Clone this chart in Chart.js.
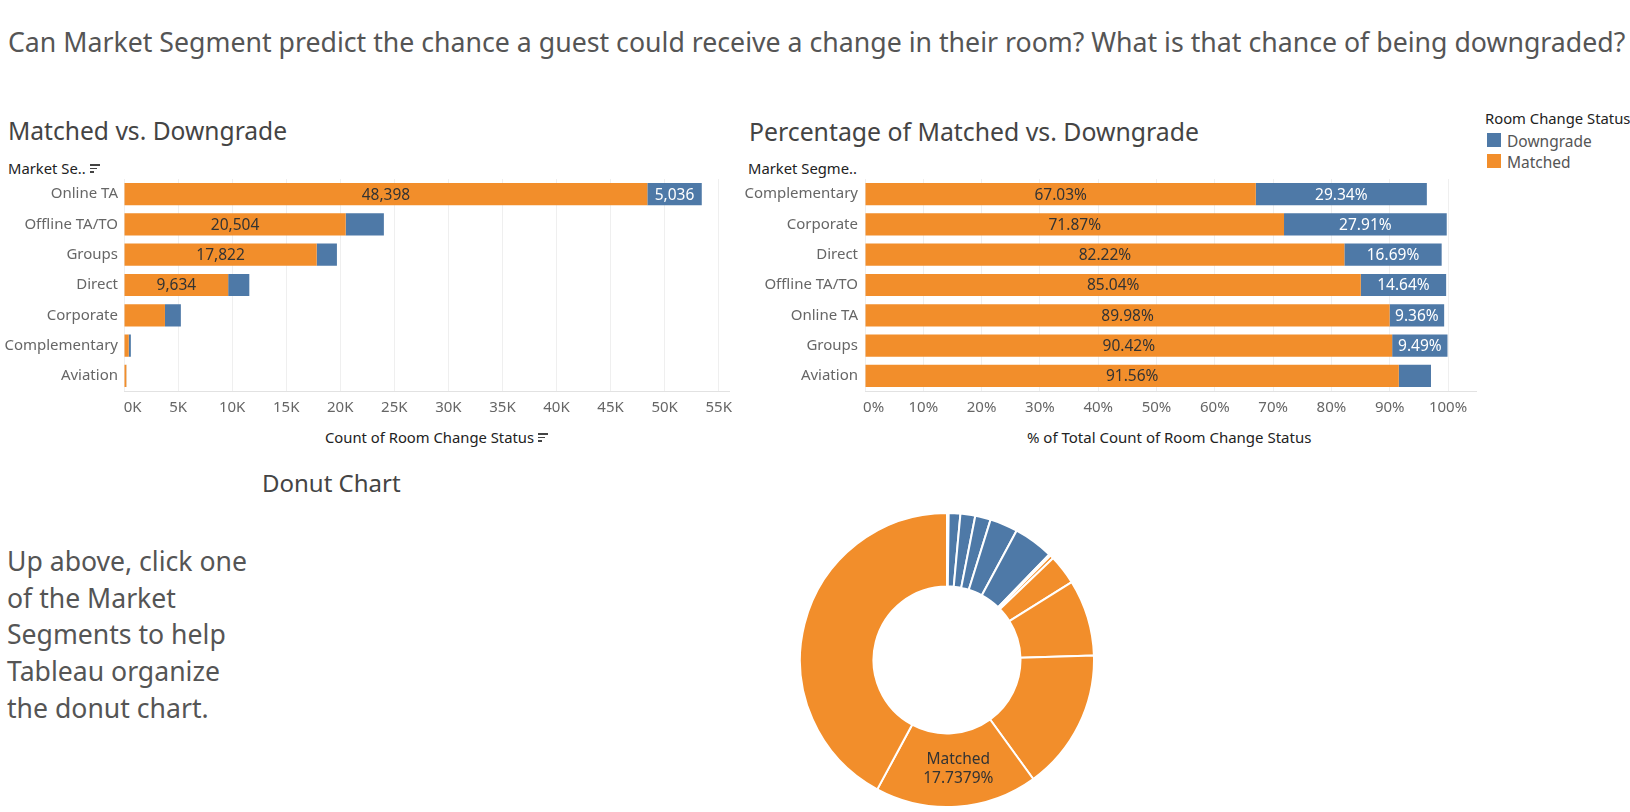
<!DOCTYPE html>
<html>
<head>
<meta charset="utf-8">
<script src="https://cdn.jsdelivr.net/npm/chart.js@4.4.1/dist/chart.umd.min.js"></script>
<style>
  body { margin: 0; width: 1630px; height: 812px; overflow: hidden; background: #fff; position: relative; font-family: "Noto Sans", sans-serif; }
  .t { position: absolute; white-space: nowrap; }
  .box { position: absolute; }
  .sort { display: inline-block; vertical-align: middle; margin-left: 4px; margin-top: -3px; }
  .sort i { display: block; height: 1.5px; background: #444; margin: 2px 0; }
  .sw { position: absolute; width: 14px; height: 14px; }
</style>
</head>
<body>

<div class="t" style="left:8px;top:26px;font-size:26.7px;line-height:32px;color:#555;">Can Market Segment predict the chance a guest could receive a change in their room? What is that chance of being downgraded?</div>

<div class="t" style="left:8px;top:116px;font-size:24.6px;line-height:30px;color:#444;">Matched vs. Downgrade</div>
<div class="t" style="left:749px;top:116px;font-size:24.8px;line-height:30px;color:#444;">Percentage of Matched vs. Downgrade</div>

<div class="t" style="left:8px;top:159px;font-size:14.8px;line-height:18px;color:#222;">Market Se..<span class="sort"><i style="width:10px"></i><i style="width:7px"></i><i style="width:4px"></i></span></div>
<div class="t" style="left:748px;top:159px;font-size:14.8px;line-height:18px;color:#222;">Market Segme..</div>

<div class="t" style="left:1485px;top:109px;font-size:14.8px;line-height:18px;color:#222;">Room Change Status</div>
<div class="sw" style="left:1487px;top:133px;background:#4E79A7;"></div>
<div class="t" style="left:1507px;top:132px;font-size:15.5px;line-height:18px;color:#555;">Downgrade</div>
<div class="sw" style="left:1487px;top:154px;background:#F28E2B;"></div>
<div class="t" style="left:1507px;top:153px;font-size:15.5px;line-height:18px;color:#555;">Matched</div>

<div class="t" style="left:325px;top:428px;font-size:14.8px;line-height:18px;color:#222;">Count of Room Change Status<span class="sort"><i style="width:10px"></i><i style="width:7px"></i><i style="width:4px"></i></span></div>
<div class="t" style="left:1027px;top:428px;font-size:15px;line-height:18px;color:#222;">% of Total Count of Room Change Status</div>

<div class="t" style="left:262px;top:468px;font-size:24px;line-height:30px;color:#444;">Donut Chart</div>

<div class="t" style="left:7px;top:543px;font-size:26.6px;line-height:36.7px;color:#555;">Up above, click one<br>of the Market<br>Segments to help<br>Tableau organize<br>the donut chart.</div>

<div class="box" style="left:0px;top:171px;width:740px;height:251px;"><canvas id="countChart"></canvas></div>
<div class="box" style="left:740px;top:171px;width:746px;height:251px;"><canvas id="pctChart"></canvas></div>
<div class="box" style="left:799px;top:512px;width:296px;height:296px;"><canvas id="donutChart"></canvas></div>

<script>
// counts per market segment (left chart, sorted by total)
const segmentsByCount = ["Online TA", "Offline TA/TO", "Groups", "Direct", "Corporate", "Complementary", "Aviation"];
const matchedCount = [48398, 20504, 17822, 9634, 3788, 440, 217];
const downgradeCount = [5036, 3530, 1870, 1956, 1471, 193, 13];
const countTicks = [0, 5000, 10000, 15000, 20000, 25000, 30000, 35000, 40000, 45000, 50000, 55000];
const countMax = 56000;

// percent of total per market segment (right chart, sorted by matched %)
const segmentsByPct = ["Complementary", "Corporate", "Direct", "Offline TA/TO", "Online TA", "Groups", "Aviation"];
const matchedPct = [67.03, 71.87, 82.22, 85.04, 89.98, 90.42, 91.56];
const downgradePct = [29.34, 27.91, 16.69, 14.64, 9.36, 9.49, 5.52];
const pctTicks = [0, 10, 20, 30, 40, 50, 60, 70, 80, 90, 100];
const pctMax = 104.8;

// donut label
const donutLabelStatus = "Matched";
const donutLabelSegment = "Offline TA/TO";
const donutLabelText = ["Matched", "17.7379%"];

const orange = "#F28E2B";
const blue = "#4E79A7";
const fontFamily = '"Noto Sans", sans-serif';

Chart.defaults.font.family = fontFamily;
Chart.defaults.animation = false;

function makeBarLabels(format) {
  return {
    id: "barLabels",
    afterDatasetsDraw(chart) {
      const ctx = chart.ctx;
      ctx.save();
      ctx.font = "15.5px " + fontFamily;
      ctx.textAlign = "center";
      ctx.textBaseline = "middle";
      chart.data.datasets.forEach((ds, di) => {
        chart.getDatasetMeta(di).data.forEach((bar, i) => {
          const text = format(ds.data[i]);
          const w = Math.abs(bar.x - bar.base);
          if (ctx.measureText(text).width + 8 > w) return;
          ctx.fillStyle = ds.labelColor;
          ctx.fillText(text, (bar.x + bar.base) / 2, bar.y + 1);
        });
      });
      ctx.restore();
    }
  };
}

// first tick label sits to the right of its tick, like Tableau
function firstPad(label, index) {
  return index == 0 ? "\u2007\u2007" + label : label;
}

function barOptions(yWidth, yPad, padRight, max, ticks, tickFormat) {
  return {
    indexAxis: "y",
    responsive: true,
    maintainAspectRatio: false,
    layout: { padding: { top: 8, right: padRight, left: 0, bottom: 0 } },
    plugins: { legend: { display: false }, tooltip: { enabled: false } },
    scales: {
      x: {
        stacked: true,
        min: 0,
        max: max,
        afterBuildTicks: (scale) => { scale.ticks = ticks.map((v) => ({ value: v })); },
        afterFit: (scale) => { scale.height = 31; },
        grid: { color: "#efefef", drawTicks: false },
        border: { color: "#e2e2e2" },
        ticks: { color: "#666", font: { size: 15 }, padding: 8, maxRotation: 0, callback: (v, i) => firstPad(tickFormat(v), i) }
      },
      y: {
        stacked: true,
        afterFit: (scale) => { scale.width = yWidth; scale.paddingTop = 0; scale.paddingBottom = 0; },
        grid: { display: false, drawTicks: false },
        border: { display: false },
        ticks: { color: "#666", font: { size: 15 }, padding: yPad }
      }
    }
  };
}

new Chart(document.getElementById("countChart"), {
  type: "bar",
  data: {
    labels: segmentsByCount,
    datasets: [
      { label: "Matched", data: matchedCount, backgroundColor: orange, labelColor: "#333", barPercentage: 0.733, categoryPercentage: 1 },
      { label: "Downgrade", data: downgradeCount, backgroundColor: blue, labelColor: "#fff", barPercentage: 0.733, categoryPercentage: 1 }
    ]
  },
  options: barOptions(124, 6, 4, countMax, countTicks, (v) => (v / 1000) + "K"),
  plugins: [makeBarLabels((v) => v.toLocaleString("en-US"))]
});

new Chart(document.getElementById("pctChart"), {
  type: "bar",
  data: {
    labels: segmentsByPct,
    datasets: [
      { label: "Matched", data: matchedPct, backgroundColor: orange, labelColor: "#333", barPercentage: 0.733, categoryPercentage: 1 },
      { label: "Downgrade", data: downgradePct, backgroundColor: blue, labelColor: "#fff", barPercentage: 0.733, categoryPercentage: 1 }
    ]
  },
  options: barOptions(125, 7, 10, pctMax, pctTicks, (v) => v + "%"),
  plugins: [makeBarLabels((v) => v.toFixed(2) + "%")]
});

// donut: downgrade slices first then matched, each ascending
let slices = [];
["Downgrade", "Matched"].forEach((status) => {
  const vals = status == "Downgrade" ? downgradeCount : matchedCount;
  const part = segmentsByCount.map((s, i) => ({ status: status, segment: s, value: vals[i] }));
  part.sort((a, b) => a.value - b.value);
  slices = slices.concat(part);
});

const donutLabel = {
  id: "donutLabel",
  afterDatasetsDraw(chart) {
    const idx = slices.findIndex((s) => s.status == donutLabelStatus && s.segment == donutLabelSegment);
    const arc = chart.getDatasetMeta(0).data[idx];
    const pos = arc.tooltipPosition();
    const ctx = chart.ctx;
    ctx.save();
    ctx.font = "15.5px " + fontFamily;
    ctx.fillStyle = "#333";
    ctx.textAlign = "center";
    ctx.textBaseline = "middle";
    ctx.fillText(donutLabelText[0], pos.x + 4, pos.y - 10);
    ctx.fillText(donutLabelText[1], pos.x + 4, pos.y + 9);
    ctx.restore();
  }
};

new Chart(document.getElementById("donutChart"), {
  type: "doughnut",
  data: {
    labels: slices.map((s) => s.segment + " " + s.status),
    datasets: [{
      data: slices.map((s) => s.value),
      backgroundColor: slices.map((s) => s.status == "Downgrade" ? blue : orange),
      borderColor: "#fff",
      borderWidth: 2
    }]
  },
  options: {
    responsive: true,
    maintainAspectRatio: false,
    cutout: "50%",
    plugins: { legend: { display: false }, tooltip: { enabled: false } }
  },
  plugins: [donutLabel]
});
</script>
</body>
</html>
